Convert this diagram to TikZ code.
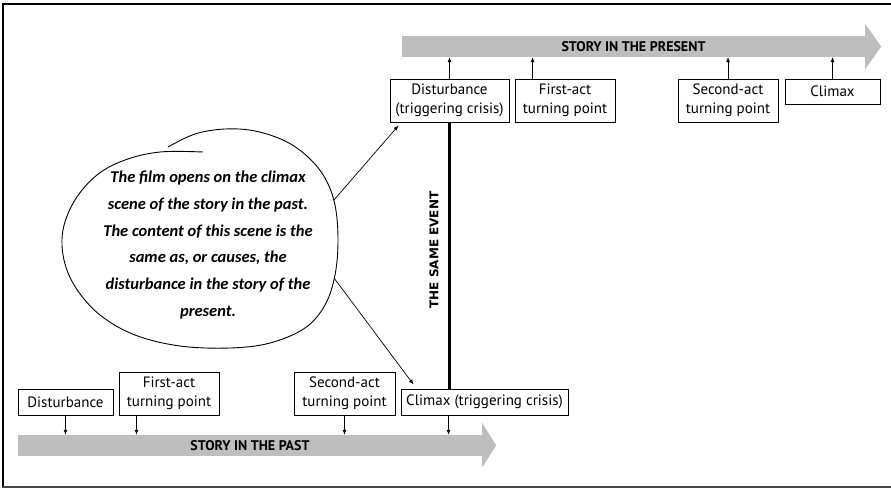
\documentclass[tikz,border=0pt]{standalone}
\usepackage{fontspec}
\setmainfont{PT Sans}
\newfontfamily\eventfont{DejaVu Sans}
\newfontfamily\handfont{Carlito}
\usetikzlibrary{arrows.meta,calc}

\definecolor{bargray}{RGB}{190,190,190}
\definecolor{framegray}{RGB}{70,70,70}

\begin{document}
\begin{tikzpicture}[x=1pt,y=-1pt,
  box/.style={draw,line width=0.9pt,align=center,inner sep=0pt,
    font=\fontsize{15}{19}\selectfont},
  shaft/.style={fill=bargray,inner sep=0pt,minimum height=21pt,
    font=\bfseries\fontsize{14}{16}\selectfont},
  head/.style={fill=bargray},
  link/.style={-{Latex[length=5pt,width=4pt]},line width=0.7pt},
  note/.style={align=center,inner sep=0pt,
    font=\handfont\itshape\bfseries\fontsize{16.5}{26.7}\selectfont},
]
\useasboundingbox (0,0) rectangle (891,489);

% frame
\draw[line width=1.2pt] (891,4) -- (3,4) -- (3,487);
\draw[framegray,line width=2pt] (2,487) -- (891,487);

% timelines
\node[shaft,minimum width=463pt] (present) at (633.5,46.5) {STORY IN THE PRESENT};
\fill[head] ([yshift=12pt]present.north east) -- ([xshift=16pt]present.east)
  -- ([yshift=-12pt]present.south east) -- cycle;
\node[shaft,minimum width=464pt] (past) at (250,445.5) {STORY IN THE PAST};
\fill[head] ([yshift=12pt]past.north east) -- ([xshift=14pt]past.east)
  -- ([yshift=-11pt]past.south east) -- cycle;

% events of the present story
\node[box,minimum width=119pt,minimum height=43pt] (td) at (449.5,100.5)
  {Disturbance\\(triggering crisis)};
\node[box,minimum width=100pt,minimum height=43pt] (tf) at (565,100.5)
  {First-act\\turning point};
\node[box,minimum width=100pt,minimum height=43pt] (ts) at (728,100.5)
  {Second-act\\turning point};
\node[box,minimum width=95pt,minimum height=25pt] (tc) at (832.5,91.5) {Climax};

% events of the past story
\node[box,minimum width=95pt,minimum height=26pt] (bd) at (65.5,402) {Disturbance};
\node[box,minimum width=100pt,minimum height=43pt] (bf) at (169,393.5)
  {First-act\\turning point};
\node[box,minimum width=101pt,minimum height=43pt] (bs) at (344.5,393.5)
  {Second-act\\turning point};
\node[box,minimum width=167pt,minimum height=26pt] (bc) at (484.5,402)
  {Climax (triggering crisis)};

% ticks onto the timelines
\coordinate (tfa) at ($(tf.north west)+(18,0)$);
\draw[link] (td.north) -- (td.north |- present.south);
\draw[link] (tfa) -- (tfa |- present.south);
\draw[link] (ts.north) -- (ts.north |- present.south);
\draw[link] (tc.north) -- (tc.north |- present.south);

\coordinate (bfa) at ($(bf.south west)+(18,0)$);
\coordinate (bca) at ($(bc.south west)+(48,0)$);
\draw[link] (bd.south) -- (bd.south |- past.north);
\draw[link] (bfa) -- (bfa |- past.north);
\draw[link] (bs.south) -- (bs.south |- past.north);
\draw[link] (bca) -- (bca |- past.north);

% same event bar
\draw[line width=3.5pt] (td.south) -- (td.south |- bc.north);
\node[rotate=90,inner sep=0pt,font=\eventfont\bfseries\fontsize{12}{14}\selectfont]
  (same) at (434,250) {THE SAME EVENT};

% speech bubble
\draw[line width=0.9pt] plot[smooth,tension=0.6] coordinates {
  (203,152) (160,152) (125,160) (97,175) (75,200) (63,230) (64,260)
  (76,288) (100,315) (135,335) (180,346) (230,348) (270,343) (305,328)
  (325,305) (335,275) (338,240) (335,205) (325,178) (308,157) (285,141)
  (255,131) (225,129) (195,134) (168,147)};
\node[note] (text) at (208,245)
  {The film opens on the climax\\scene of the story in the past.\\
   The content of this scene is the\\same as, or causes, the\\
   disturbance in the story of the\\present.};
\coordinate (b1) at (334,200);
\coordinate (b2) at (334,278);
\draw[link] (b1) -- ([xshift=9pt,yshift=-3pt]td.south west);
\draw[link] (b2) -- ([xshift=13pt,yshift=4pt]bc.north west);
\end{tikzpicture}
\end{document}
